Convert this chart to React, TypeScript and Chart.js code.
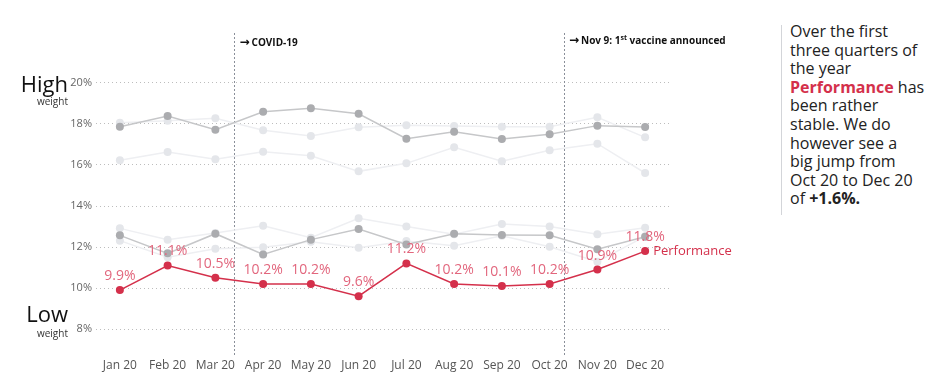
import React, { useEffect, useRef } from "react";
import { Chart, registerables } from "chart.js";

Chart.register(...registerables);

const months = ["Jan 20", "Feb 20", "Mar 20", "Apr 20", "May 20", "Jun 20", "Jul 20", "Aug 20", "Sep 20", "Oct 20", "Nov 20", "Dec 20"];
const performance = [9.9, 11.1, 10.5, 10.2, 10.2, 9.6, 11.2, 10.2, 10.1, 10.2, 10.9, 11.8];
const peerHighDark = [17.87, 18.39, 17.72, 18.6, 18.77, 18.5, 17.28, 17.62, 17.27, 17.5, 17.92, 17.85];
const peerHighLight = [18.06, 18.16, 18.28, 17.69, 17.41, 17.84, 17.94, 17.9, 17.87, 17.87, 18.33, 17.35];
const peerMidLight = [16.23, 16.63, 16.28, 16.65, 16.45, 15.69, 16.08, 16.86, 16.18, 16.72, 17.04, 15.61];
const peerLowDark = [12.57, 11.69, 12.65, 11.64, 12.36, 12.88, 12.12, 12.65, 12.59, 12.57, 11.89, 12.5];
const peerLowLightA = [12.91, 12.36, 12.68, 13.04, 12.45, 13.4, 13.0, 12.62, 13.12, 13.0, 12.62, 12.94];
const peerLowLightB = [12.31, 11.5, 11.92, 11.99, 12.26, 11.97, 12.29, 12.06, 12.55, 12.01, 11.28, 12.52];
const yTicks = [8, 10, 12, 14, 16, 18, 20];
const eventPositions = [2.4, 9.3];
const eventLabels = [["COVID-19", "", ""], ["Nov 9: 1", "st", " vaccine announced"]];

const FONT = "'Open Sans', 'Noto Sans', sans-serif";
const RED = "#d4304b";
const RED_LABEL = "#e2667d";

const overlayPlugin = {
  id: "overlay",
  beforeDatasetsDraw(chart: any) {
    const { ctx, chartArea, scales } = chart;
    ctx.save();
    ctx.strokeStyle = "#8a8f99";
    ctx.lineWidth = 1;
    ctx.setLineDash([2, 2]);
    eventPositions.forEach((p) => {
      const x = Math.round(scales.x.getPixelForValue(p)) + 0.5;
      ctx.beginPath();
      ctx.moveTo(x, chartArea.top - 2);
      ctx.lineTo(x, chartArea.bottom + 3);
      ctx.stroke();
    });
    ctx.restore();
  },
  afterDatasetsDraw(chart: any) {
    const { ctx, chartArea, scales } = chart;
    const xs = scales.x;
    const ys = scales.y;
    ctx.save();
    // event annotations
    ctx.fillStyle = "#111";
    ctx.textBaseline = "middle";
    ctx.textAlign = "left";
    eventPositions.forEach((p, i) => {
      let x = xs.getPixelForValue(p) + 5;
      const y = chartArea.top + 8 - i * 2;
      const [a, sup, b] = eventLabels[i];
      ctx.font = `bold 12px 'DejaVu Sans', sans-serif`;
      ctx.fillText("→", x, y);
      x += ctx.measureText("→").width + 2;
      ctx.font = `bold 10px ${FONT}`;
      ctx.fillText(a, x, y);
      x += ctx.measureText(a).width;
      if (sup) {
        ctx.font = `bold 7px ${FONT}`;
        ctx.fillText(sup, x, y - 3);
        x += ctx.measureText(sup).width;
        ctx.font = `bold 10px ${FONT}`;
        ctx.fillText(b, x, y);
      }
    });
    // data labels
    const meta = chart.getDatasetMeta(0);
    ctx.font = `14px ${FONT}`;
    ctx.textAlign = "center";
    ctx.fillStyle = RED_LABEL;
    meta.data.forEach((pt: any, i: number) => {
      ctx.fillText(performance[i].toFixed(1) + "%", pt.x, pt.y - 14);
    });
    const last = meta.data[meta.data.length - 1];
    ctx.textAlign = "left";
    ctx.font = `13px ${FONT}`;
    ctx.fillStyle = RED;
    ctx.fillText("Performance", last.x + 8, last.y);
    // High / Low
    const lx = chartArea.left - 28;
    ctx.textAlign = "right";
    ctx.fillStyle = "#111";
    ctx.font = `22px ${FONT}`;
    ctx.fillText("High", lx, ys.getPixelForValue(20) + 3);
    ctx.fillText("Low", lx, ys.getPixelForValue(8) - 13);
    ctx.font = `10px ${FONT}`;
    ctx.fillStyle = "#333";
    ctx.fillText("weight", lx, ys.getPixelForValue(20) + 19);
    ctx.fillText("weight", lx, ys.getPixelForValue(8) + 5);
    ctx.restore();
  },
};

function grayDataset(data: number[], dark: boolean) {
  return {
    data,
    borderColor: dark ? "#c6c7c9" : "#eeeff2",
    backgroundColor: dark ? "#abacaf" : "#e4e6ea",
    pointBackgroundColor: dark ? "#abacaf" : "#e4e6ea",
    pointBorderWidth: 0,
    pointRadius: 4,
    borderWidth: 1.5,
    tension: 0,
  };
}

export default function App() {
  const ref = useRef<HTMLCanvasElement>(null);
  useEffect(() => {
    if (!ref.current) return;
    const chart = new Chart(ref.current, {
      type: "line",
      data: {
        labels: months,
        datasets: [
          {
            data: performance,
            borderColor: RED,
            backgroundColor: RED,
            pointBackgroundColor: RED,
            pointBorderWidth: 0,
            pointRadius: 4,
            borderWidth: 1.5,
            tension: 0,
          },
          grayDataset(peerHighDark, true),
          grayDataset(peerLowDark, true),
          grayDataset(peerHighLight, false),
          grayDataset(peerMidLight, false),
          grayDataset(peerLowLightA, false),
          grayDataset(peerLowLightB, false),
        ] as any,
      },
      options: {
        responsive: false,
        animation: false,
        layout: { padding: { top: 35, right: 91, left: 0, bottom: 0 } },
        plugins: { legend: { display: false }, tooltip: { enabled: false } },
        scales: {
          x: {
            offset: true,
            grid: { display: false, drawTicks: false },
            border: { display: false },
            ticks: { color: "#555", font: { family: FONT, size: 12 }, padding: 6, maxRotation: 0 },
            afterFit: (s: any) => {
              s.height = 36;
            },
          },
          y: {
            min: 6.88,
            max: 22.34,
            grid: { color: "#bdbdbd", drawTicks: false, lineWidth: 1 },
            border: { display: false, dash: [1, 3] },
            ticks: {
              color: "#666",
              font: { family: FONT, size: 11 },
              padding: 4,
              callback: (v: any) => v + "%",
            },
            afterBuildTicks: (s: any) => {
              s.ticks = yTicks.map((v) => ({ value: v }));
            },
            afterFit: (s: any) => {
              s.width = 96;
            },
          },
        },
      } as any,
      plugins: [overlayPlugin],
    });
    return () => chart.destroy();
  }, []);

  return (
    <div style={{ position: "fixed", left: 0, top: 0, width: 936, height: 388, background: "#fff" }}>
      <canvas ref={ref} width={760} height={388} style={{ position: "absolute", left: 0, top: 0 }} />
      <div style={{ position: "absolute", left: 781, top: 25, width: 1, height: 190, background: "#d3d5d9" }} />
      <div
        style={{
          position: "absolute",
          left: 790,
          top: 22,
          width: 146,
          fontFamily: FONT,
          fontSize: 16,
          lineHeight: "18.6px",
          color: "#222",
        }}
      >
        Over the first
        <br />
        three quarters of
        <br />
        the year
        <br />
        <b style={{ color: RED }}>Performance</b> has
        <br />
        been rather
        <br />
        stable. We do
        <br />
        however see a
        <br />
        big jump from
        <br />
        Oct 20 to Dec 20
        <br />
        of <b>+1.6%.</b>
      </div>
    </div>
  );
}
